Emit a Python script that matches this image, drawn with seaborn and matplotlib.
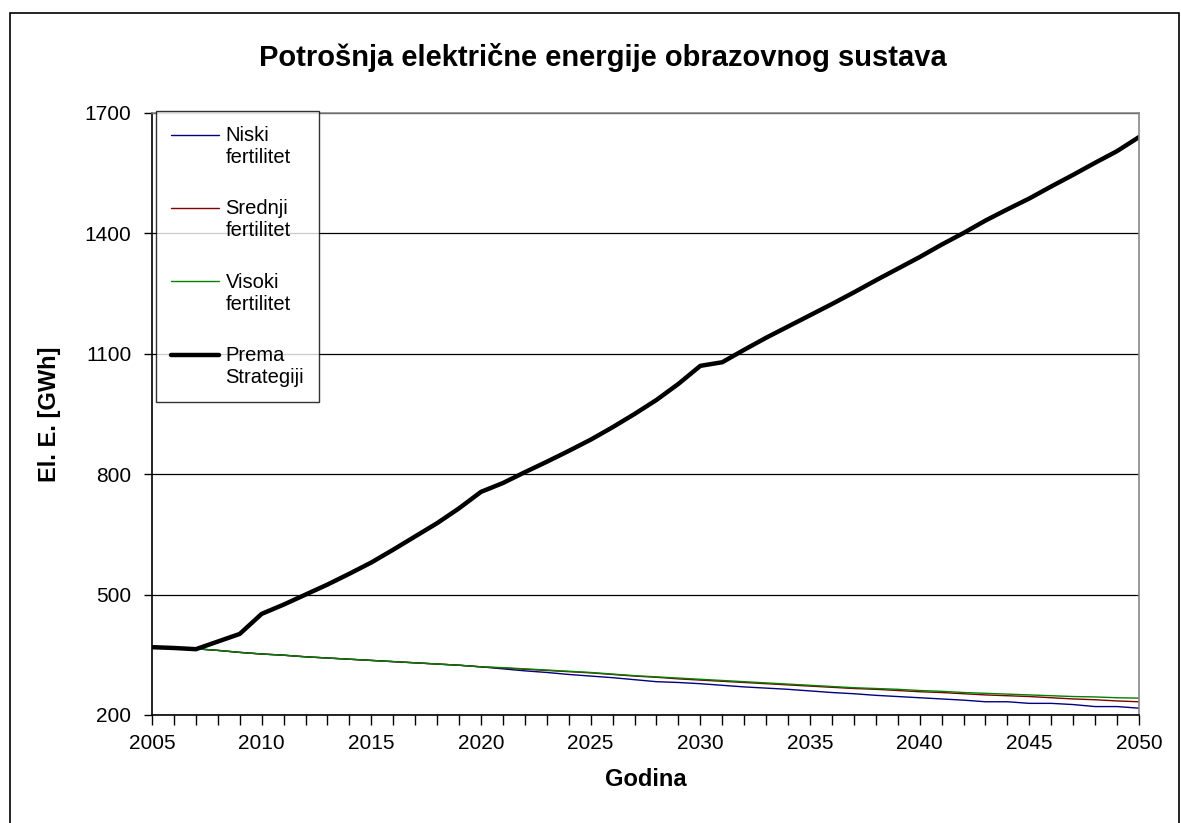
import matplotlib
matplotlib.use("Agg")
import matplotlib.pyplot as plt
import matplotlib.ticker as mticker
from matplotlib.legend_handler import HandlerLine2D
import pandas as pd
import seaborn as sns

# Godine i potrosnja [GWh] po scenarijima
godine = list(range(2005, 2051))

niski = [370, 367, 365, 361, 356, 352, 349, 345, 342, 339,
         336, 333, 330, 327, 324, 320, 315, 310, 306, 301,
         297, 293, 288, 283, 281, 278, 274, 270, 267, 264,
         260, 256, 253, 249, 246, 243, 240, 237, 233, 233,
         229, 229, 226, 221, 221, 217]

srednji = [370, 367, 365, 361, 356, 352, 349, 345, 342, 339,
           336, 333, 330, 327, 324, 320, 317, 314, 311, 308,
           305, 301, 297, 294, 290, 287, 284, 281, 278, 275,
           272, 269, 266, 264, 261, 258, 256, 253, 250, 248,
           246, 243, 240, 238, 235, 233]

visoki = [370, 367, 365, 361, 356, 352, 349, 345, 342, 339,
          336, 333, 330, 327, 324, 320, 318, 315, 312, 309,
          306, 302, 298, 295, 292, 289, 286, 283, 280, 277,
          274, 271, 268, 266, 264, 261, 259, 256, 254, 252,
          250, 248, 246, 245, 243, 242]

strategija = [369, 367, 364, 383, 402, 452, 475, 500, 525, 552,
              580, 612, 645, 678, 715, 756, 778, 805, 831, 858,
              886, 917, 950, 985, 1025, 1070, 1079, 1110, 1140, 1168,
              1196, 1224, 1253, 1283, 1312, 1341, 1372, 1401, 1432, 1460,
              1487, 1517, 1546, 1576, 1605, 1640]

serije = [
    ("Niski\nfertilitet", niski, "#000080", 1.0),
    ("Srednji\nfertilitet", srednji, "#800000", 1.0),
    ("Visoki\nfertilitet", visoki, "#008000", 1.0),
    ("Prema\nStrategiji", strategija, "black", 3.2),
]


class GornjiRed(HandlerLine2D):
    """Crta liniju legende u visini prvog reda teksta."""

    def create_artists(self, legend, orig_handle, xdescent, ydescent,
                       width, height, fontsize, trans):
        artists = super().create_artists(legend, orig_handle, xdescent, ydescent,
                                         width, height, fontsize, trans)
        for a in artists:
            a.set_ydata([y + 0.6 * fontsize for y in a.get_ydata()])
        return artists


sns.set_style("white")
plt.rcParams["font.family"] = ["Liberation Sans", "DejaVu Sans"]
plt.rcParams["text.color"] = "black"
plt.rcParams["axes.labelcolor"] = "black"
plt.rcParams["xtick.color"] = "black"
plt.rcParams["ytick.color"] = "black"

fig = plt.figure(figsize=(11.81, 8.23), dpi=100)
ax = fig.add_axes([152 / 1181, 1 - 715 / 823, (1139 - 152) / 1181, (715 - 113) / 823])

for naziv, vrijednosti, boja, debljina in serije:
    df = pd.DataFrame({"Godina": godine, "EE": vrijednosti})
    sns.lineplot(data=df, x="Godina", y="EE", color=boja, linewidth=debljina,
                 label=naziv, ax=ax)

ax.set_xlim(2005, 2050)
ax.set_ylim(200, 1700)
ax.set_xticks(range(2005, 2051, 5))
ax.xaxis.set_minor_locator(mticker.MultipleLocator(1))
ax.set_yticks(range(200, 1701, 300))
ax.tick_params(axis="x", which="both", direction="out", length=7, width=1,
               color="black", labelsize=15, pad=7, bottom=True)
ax.tick_params(axis="y", direction="out", length=6, width=1, color="black",
               labelsize=15, pad=9, left=True)
ax.grid(axis="y", color="black", linewidth=0.9)
ax.grid(axis="x", visible=False)

for side in ["left", "bottom"]:
    ax.spines[side].set_color("black")
    ax.spines[side].set_linewidth(1.2)
for side in ["top", "right"]:
    ax.spines[side].set_color("#888888")
    ax.spines[side].set_linewidth(1.2)

ax.set_xlabel("Godina", fontsize=17, fontweight="bold")
ax.xaxis.set_label_coords(0.5, (715 - 780) / 602)
ax.xaxis.label.set_va("center")
ax.set_ylabel("El. E. [GWh]", fontsize=17, fontweight="bold")
ax.yaxis.set_label_coords((50 - 152) / 987, 0.5)
ax.yaxis.label.set_va("center")
fig.text(603 / 1181, 1 - 57 / 823, "Potrošnja električne energije obrazovnog sustava",
         ha="center", va="center", fontsize=21, fontweight="bold")

handles, labels = ax.get_legend_handles_labels()
leg = ax.legend(handles, labels, loc="upper left",
                bbox_to_anchor=(156 / 1181, 1 - 111 / 823),
                bbox_transform=fig.transFigure, borderaxespad=0, fontsize=14.5,
                frameon=True, fancybox=False, handlelength=2.4, handletextpad=0.3,
                labelspacing=1.6, borderpad=0.75,
                handler_map={h: GornjiRed() for h in handles})
leg.get_frame().set_edgecolor("black")
leg.get_frame().set_linewidth(1.0)

# okvir oko cijele slike
fig.patches.append(plt.Rectangle((10 / 1181, -0.05), (1179 - 10) / 1181, 1 - 13 / 823 + 0.05,
                                 transform=fig.transFigure, fill=False,
                                 edgecolor="black", linewidth=1.2))

fig.savefig("out.png", dpi=100)
